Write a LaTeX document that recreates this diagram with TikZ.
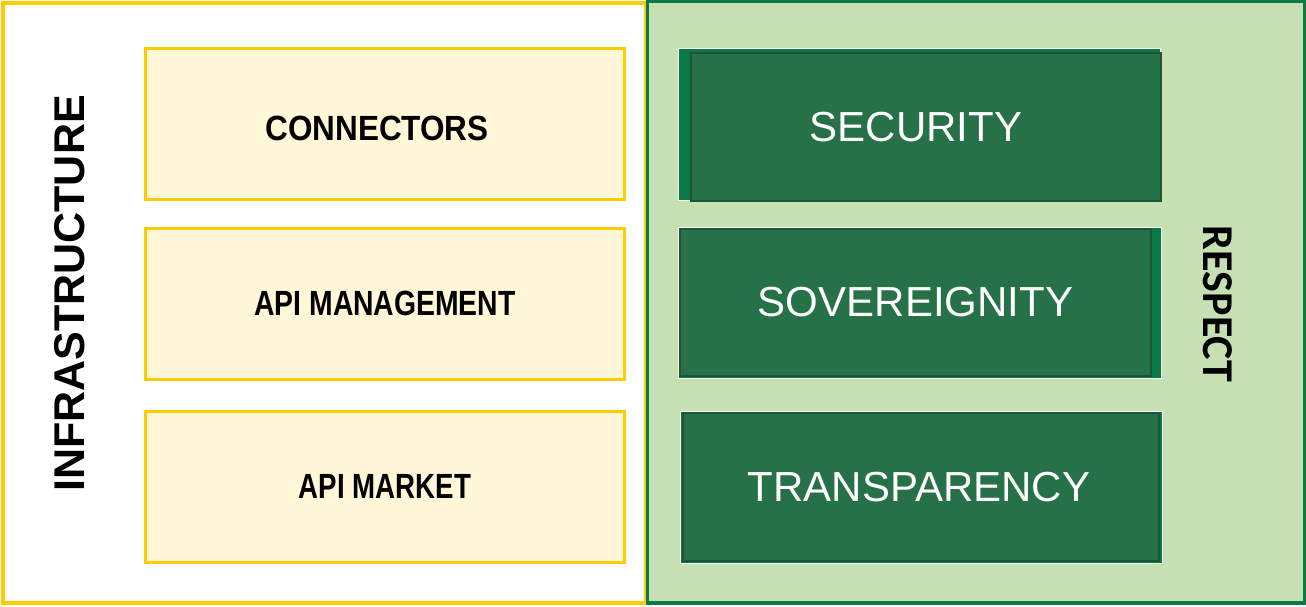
\documentclass[tikz,border=0pt]{standalone}
\usepackage{fontspec}
\setmainfont{Liberation Sans}
\newfontfamily\calibri{Carlito}
\usepackage{xcolor}
\usepackage{graphicx}
\usepackage{tikz}
\usetikzlibrary{positioning,fit,backgrounds}

\definecolor{infraline}{HTML}{FFCC00}
\definecolor{infrafill}{HTML}{FFF7D7}
\definecolor{respfill}{HTML}{C6E0B4}
\definecolor{respline}{HTML}{0B7A47}
\definecolor{pillarfill}{HTML}{277148}
\definecolor{pillarline}{HTML}{1E5533}
\definecolor{pillarback}{HTML}{087A45}

\newcommand{\squeeze}[2]{\scalebox{#1}[1]{#2}}

\tikzset{
  layer/.style={draw=infraline,fill=infrafill,line width=3pt,minimum width=479pt,
    minimum height=151pt,inner sep=0pt,font=\fontsize{35}{40}\selectfont\bfseries},
  pillar/.style={draw=pillarline,fill=pillarfill,line width=2pt,inner sep=0pt,
    text=white,font=\fontsize{42}{48}\selectfont},
  backing/.style={draw=white,fill=pillarback,line width=1pt,inner sep=0pt},
  title/.style={inner sep=0pt,font=\fontsize{43}{48}\selectfont\bfseries}
}

\begin{document}
\begin{tikzpicture}[x=1pt,y=-1pt]
  \useasboundingbox (0,0) rectangle (1306,606);
  % frames
  \draw[infraline,line width=4pt] (3,3) rectangle (646,603);
  \draw[respline,fill=respfill,line width=3.5pt] (647.5,1.5) rectangle (1304.5,603);

  % infrastructure layers
  \node[layer,text height=33pt,text depth=0pt] (conn) at (385,124) {\hspace*{-16pt}\squeeze{0.9}{CONNECTORS}};
  \node[layer] (apim) at (385,303.5) {\squeeze{0.81}{API MANAGEMENT}};
  \node[layer] (apimk) at (385,486.5) {\squeeze{0.79}{API MARKET}};

  % respect pillars
  \node[backing,minimum width=482pt,minimum height=152pt] (secb) at (919,124) {};
  \node[pillar,minimum width=470pt,minimum height=148pt] (sec) at (926,127) {\hspace*{-20pt}SECURITY};
  \node[backing,minimum width=483pt,minimum height=151pt] (sovb) at (919.5,302.5) {};
  \node[pillar,minimum width=471pt,minimum height=147pt] (sov) at (915.5,302.5) {SOVEREIGNITY};
  \node[backing,minimum width=482pt,minimum height=152pt] (trab) at (921,487) {};
  \node[pillar,minimum width=476pt,minimum height=148pt] (tra) at (921,487) {\hspace*{-4pt}TRANSPARENCY};

  % side titles
  \node[title,rotate=90] (infra) at (70,293.5) {INFRASTRUCTURE};
  \node[title,rotate=-90,font=\calibri\fontsize{44}{48}\selectfont\bfseries] (resp) at (1217.5,304) {RESPECT};
\end{tikzpicture}
\end{document}
